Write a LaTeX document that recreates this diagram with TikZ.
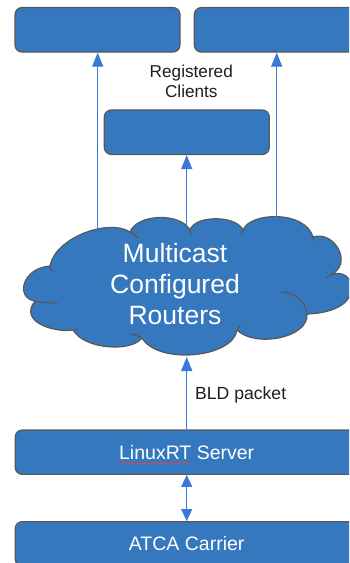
\documentclass[tikz,border=0pt]{standalone}
\usepackage{fontspec}
\setmainfont{Liberation Sans}
\usetikzlibrary{arrows.meta,decorations.pathmorphing}

\definecolor{boxblue}{RGB}{53,120,190}
\definecolor{edgegray}{RGB}{88,88,88}
\definecolor{linkblue}{RGB}{60,120,216}
\definecolor{labelink}{RGB}{30,30,30}
\definecolor{spellred}{RGB}{225,70,70}

\tikzset{
  panel/.style={draw=edgegray, line width=1.2pt, fill=boxblue, rounded corners=7pt,
                inner sep=0pt, text=white, font=\fontsize{19.5}{22}\selectfont},
  clientbox/.style={panel, minimum width=165pt, minimum height=44.5pt},
  widebox/.style={panel, minimum width=343pt, minimum height=44.3pt},
  link/.style={draw=linkblue, line width=1.3pt,
               -{Triangle[length=14pt,width=11pt]}},
  duallink/.style={draw=linkblue, line width=1.3pt,
               {Triangle[length=12pt,width=11pt]}-{Triangle[length=12pt,width=11pt]}},
  caption/.style={text=labelink, align=center, inner sep=0pt,
                  font=\fontsize{17.2}{20}\selectfont},
  cloudfill/.style={fill=boxblue, draw=edgegray, line width=1.2pt, line join=round},
  cloudcrease/.style={draw=edgegray, line width=1.2pt, line cap=round},
}

\begin{document}
\begin{tikzpicture}[x=1pt, y=-1pt]
  \clip (0,0) rectangle (349,563);
  \fill[white] (0,0) rectangle (349,563);

  % registered clients
  \node[clientbox] (clientA) at (97.5,29.8) {};
  \node[clientbox] (clientB) at (276.8,29.8) {};
  \node[clientbox] (clientC) at (186.8,132.2) {};
  \node[caption] (reglabel) at (191.3,81.5) {Registered\\Clients};

  % multicast router cloud
  \path[cloudfill]
    (50,266)
    .. controls (55,238) and (108,218) .. (130,232)
    .. controls (137,214) and (180,212) .. (190,230)
    .. controls (195,215) and (236,215) .. (243,230)
    .. controls (250,212) and (305,210) .. (313,237)
    .. controls (335,230) and (354,265) .. (330,275)
    .. controls (356,264) and (370,312) .. (307,314)
    .. controls (309,338) and (255,348) .. (237,330)
    .. controls (233,358) and (158,365) .. (142,338)
    .. controls (132,352) and (85,350)  .. (73,330)
    .. controls (55,333) and (18,322)   .. (35,301)
    .. controls (15,298) and (22,268)   .. (50,266)
    -- cycle;
  % creases where the lobes meet
  \draw[cloudcrease] (50,266) .. controls (50.5,268.5) and (51.5,270.5) .. (53,272);
  \draw[cloudcrease] (130,232) .. controls (133,233.5) and (136,235.5) .. (138,238);
  \draw[cloudcrease] (190,230) -- (191,235);
  \draw[cloudcrease] (243,230) -- (241.5,233.5);
  \draw[cloudcrease] (313,237) -- (313.5,241);
  \draw[cloudcrease] (330,275) -- (326,278);
  \draw[cloudcrease] (282,292) .. controls (297,293) and (306,303) .. (307,314);
  \draw[cloudcrease] (237,330) -- (240,326);
  \draw[cloudcrease] (142,338) .. controls (139,336) and (134,334.5) .. (130,334);
  \draw[cloudcrease] (73,330) -- (77,329.5);
  \draw[cloudcrease] (35,301) .. controls (42,302.5) and (50,303) .. (57,303);

  \node[text=white, align=center, inner sep=0pt,
        font=\fontsize{26.5}{31}\selectfont] (cloudtext) at (175,284.5)
        {Multicast\\Configured\\Routers};

  % points on the cloud outline where the links attach
  \coordinate (cloudL) at (97.7,229.8);
  \coordinate (cloudM) at (186.7,225.5);
  \coordinate (cloudR) at (276.7,217.5);
  \coordinate (cloudB) at (186.7,357);

  % server side
  \node[widebox] (server) at (186.7,452.2) {LinuxRT Server};
  \node[widebox] (carrier) at (186.7,543.8) {ATCA Carrier};
  \draw[spellred, line width=0.6pt,
        decorate, decoration={snake, segment length=3.2pt, amplitude=0.8pt}]
        (118.5,463.3) -- (190.5,463.3);

  % links
  \draw[link] (cloudL) -- (cloudL |- clientA.south);
  \draw[link] (cloudR) -- (cloudR |- clientB.south);
  \draw[link] (cloudM) -- (cloudM |- clientC.south);
  \draw[link] (server.north) -- (cloudB);
  \draw[duallink] (server.south) -- (carrier.north);

  \node[caption, anchor=base west] (bldlabel) at (195,399.8)
        {\fontsize{17.6}{20}\selectfont BLD packet};
\end{tikzpicture}
\end{document}
